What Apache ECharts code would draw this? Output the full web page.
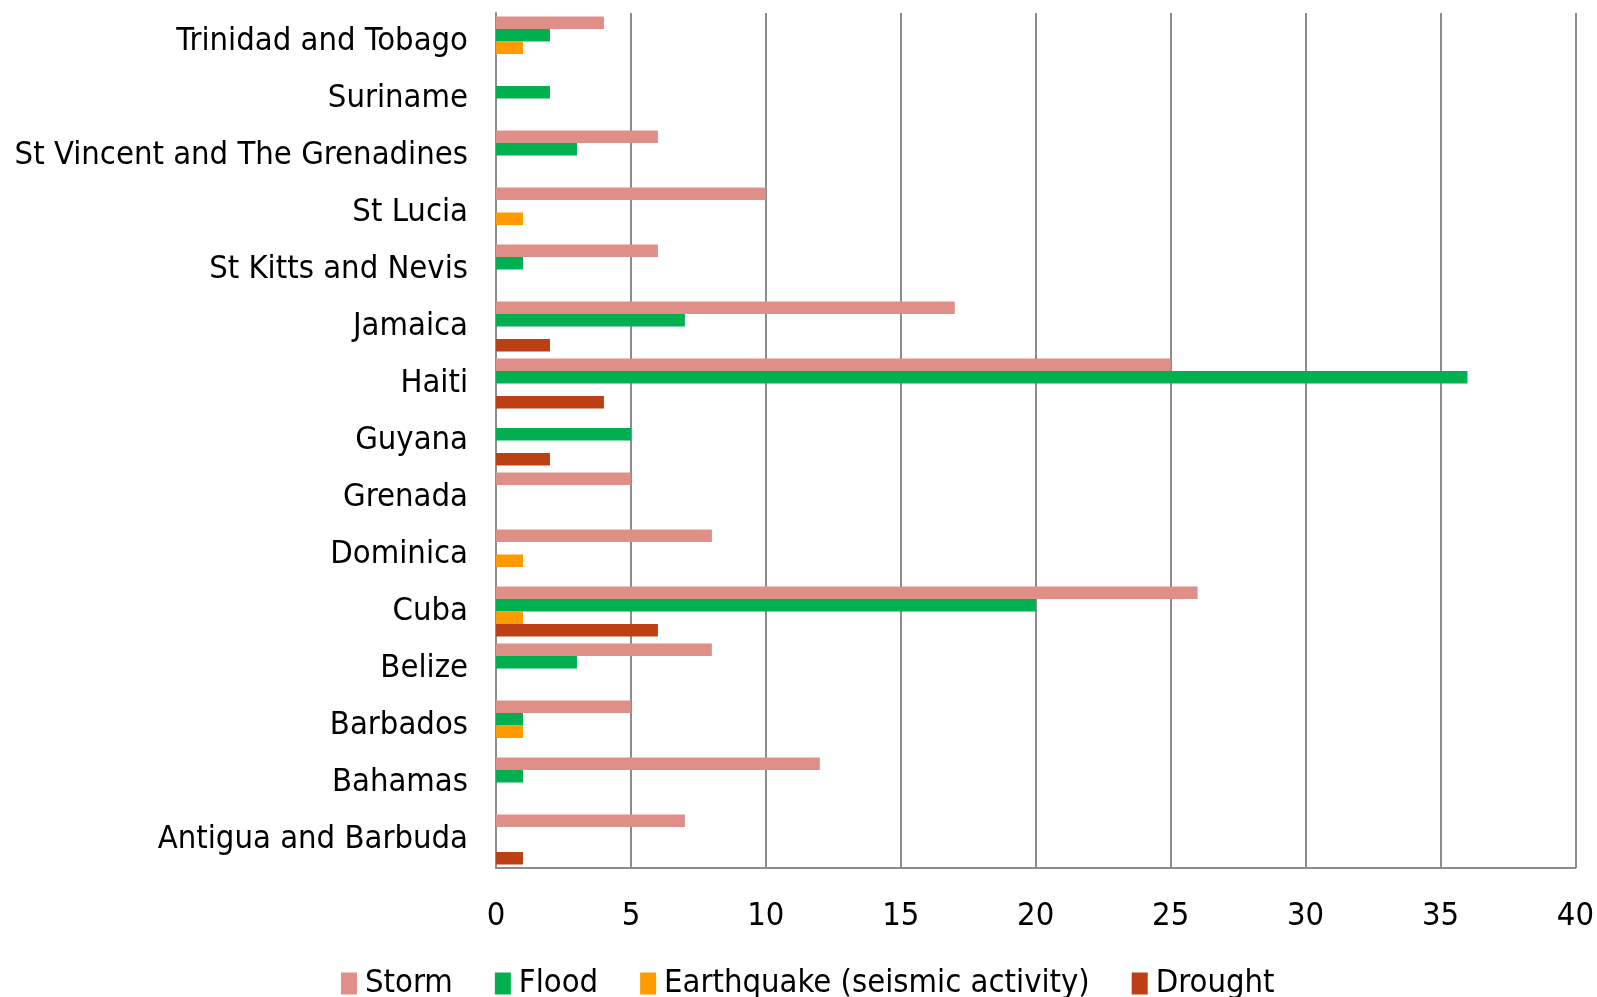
<!DOCTYPE html>
<html>
<head>
<meta charset="utf-8">
<script src="https://cdn.jsdelivr.net/npm/echarts@6/dist/echarts.min.js"></script>
<style>
  html, body { margin: 0; padding: 0; background: #fff; }
  #chart { width: 1597px; height: 997px; }
</style>
</head>
<body>
<div id="chart"></div>
<script>
// Disaster counts per country, top to bottom as drawn
const countries = ['Trinidad and Tobago', 'Suriname', 'St Vincent and The Grenadines', 'St Lucia',
  'St Kitts and Nevis', 'Jamaica', 'Haiti', 'Guyana', 'Grenada', 'Dominica', 'Cuba', 'Belize',
  'Barbados', 'Bahamas', 'Antigua and Barbuda'];
const storm      = [4, null, 6, 10, 6, 17, 25, null, 5, 8, 26, 8, 5, 12, 7];
const flood      = [2, 2, 3, null, 1, 7, 36, 5, null, null, 20, 3, 1, 1, null];
const earthquake = [1, null, null, 1, null, null, null, null, null, 1, 1, null, 1, null, null];
const drought    = [null, null, null, null, null, 2, 4, 2, null, null, 6, null, null, null, 1];
const xTicks = [0, 5, 10, 15, 20, 25, 30, 35, 40];

const font = 'DejaVu Sans Condensed';
const gridGray = '#8c8c8c';

const chart = echarts.init(document.getElementById('chart'));

function barSeries(name, data, color) {
  return {
    name, type: 'bar', data,
    barWidth: 12.5, barGap: '0%',
    itemStyle: { color },
    animation: false
  };
}

chart.setOption({
  backgroundColor: '#fff',
  grid: { left: 496, right: 19, top: 13, bottom: 129 },
  legend: {
    bottom: -8, left: 336,
    itemWidth: 16, itemHeight: 22, itemGap: 42,
    textStyle: { fontFamily: font, fontSize: 32.5, color: '#000', padding: [0, 0, 0, 3] },
    icon: 'rect',
    data: ['Storm', 'Flood', 'Earthquake (seismic activity)', 'Drought']
  },
  xAxis: {
    type: 'value', min: xTicks[0], max: xTicks[xTicks.length - 1], interval: 5,
    axisLine: { show: true, lineStyle: { color: gridGray, width: 2 } },
    axisTick: { show: false },
    axisLabel: { fontFamily: font, fontSize: 32.5, color: '#000', margin: 32 },
    splitLine: { show: true, lineStyle: { color: gridGray, width: 2 } }
  },
  yAxis: {
    type: 'category', data: countries, inverse: true,
    axisLine: { show: true, lineStyle: { color: gridGray, width: 2 } },
    axisTick: { show: false },
    axisLabel: { fontFamily: font, fontSize: 32.5, color: '#000', margin: 28, padding: [10, 0, 0, 0] }
  },
  series: [
    barSeries('Storm', storm, '#df8f87'),
    barSeries('Flood', flood, '#00b050'),
    barSeries('Earthquake (seismic activity)', earthquake, '#ff9a00'),
    barSeries('Drought', drought, '#bd4014')
  ]
});
</script>
</body>
</html>
